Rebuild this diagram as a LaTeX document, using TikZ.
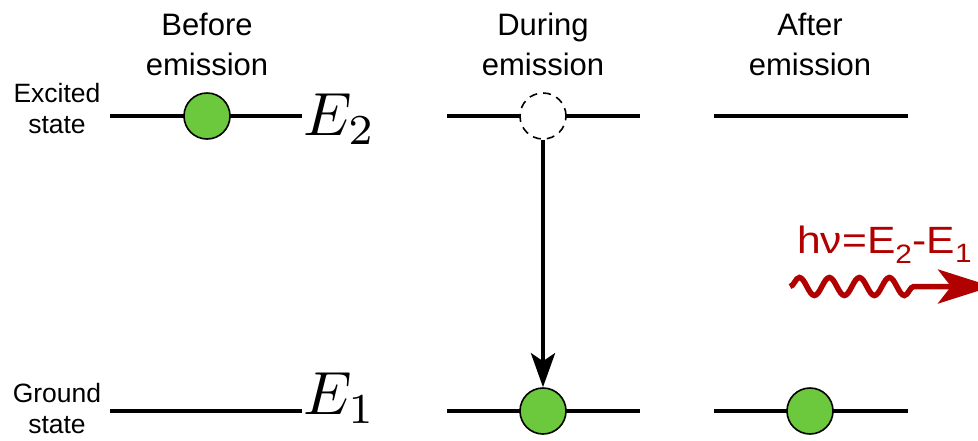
\documentclass[tikz,border=0pt]{standalone}
\usepackage{fontspec}
\setmainfont{Liberation Sans}
\usetikzlibrary{arrows.meta,decorations.pathmorphing}
\definecolor{ballgreen}{HTML}{6CC83C}
\definecolor{photonred}{HTML}{B00000}
\begin{document}
\begin{tikzpicture}[x=1pt,y=-1pt,
  level/.style={line width=4.5pt},
  ball/.style={circle,draw=black,line width=1.6pt,fill=ballgreen,minimum size=46pt,inner sep=0pt},
  ghost/.style={circle,draw=black,dash pattern=on 8pt off 6pt,line width=1.6pt,fill=white,minimum size=46pt,inner sep=0pt},
  head/.style={font=\fontsize{31}{40}\selectfont,align=center},
  side/.style={font=\fontsize{26.5}{31}\selectfont,align=center},
  energy/.style={scale=6.1,inner sep=0pt,anchor=base west}]
\useasboundingbox (0,0) rectangle (978,440);
% headings
\node[head] (h1) at (207,44.7) {Before\\emission};
\node[head] (h2) at (543,44.7) {During\\emission};
\node[head] (h3) at (810,44.7) {After\\emission};
\node[side] (s1) at (57,109) {Excited\\state};
\node[side] (s2) at (57,409) {Ground\\state};
% levels
\coordinate (a1) at (110,116); \coordinate (a2) at (302,116);
\coordinate (b1) at (447,116); \coordinate (b2) at (640,116);
\coordinate (c1) at (714,116); \coordinate (c2) at (908,116);
\coordinate (d1) at (110,411); \coordinate (d2) at (302,411);
\coordinate (e1) at (447,411); \coordinate (e2) at (640,411);
\coordinate (f1) at (714,411); \coordinate (f2) at (908,411);
\draw[level] (a1) -- (a2);
\draw[level] (b1) -- (b2);
\draw[level] (c1) -- (c2);
\draw[level] (d1) -- (d2);
\draw[level] (e1) -- (e2);
\draw[level] (f1) -- (f2);
\node[energy] (E2) at (302,135) {$E_2$};
\node[energy] (E1) at (302,414) {$E_1$};
% balls
\node[ball] (p1) at (207,116) {};
\node[ghost] (p2) at (543,116) {};
\node[ball] (p3) at (543,411) {};
\node[ball] (p4) at (810,411) {};
\draw[line width=4.5pt,-{Stealth[length=34pt,width=24pt,inset=8pt]}] (p2.south) -- (p3.north);
% photon
\node[font=\fontsize{38}{40}\selectfont,text=photonred,anchor=base west,inner sep=0pt] (hv) at (797,253) {\scalebox{1.12}[1]{hν=E\textsubscript{2}-E\textsubscript{1}}};
\coordinate (w1) at (790,286.5);
\coordinate (w2) at (992,286.5);
\draw[photonred,line width=5.5pt,decorate,decoration={snake,amplitude=9pt,segment length=30pt,post length=66pt},-{Stealth[length=54pt,width=34pt,inset=13pt]}] (w1) -- (w2);
\end{tikzpicture}
\end{document}
